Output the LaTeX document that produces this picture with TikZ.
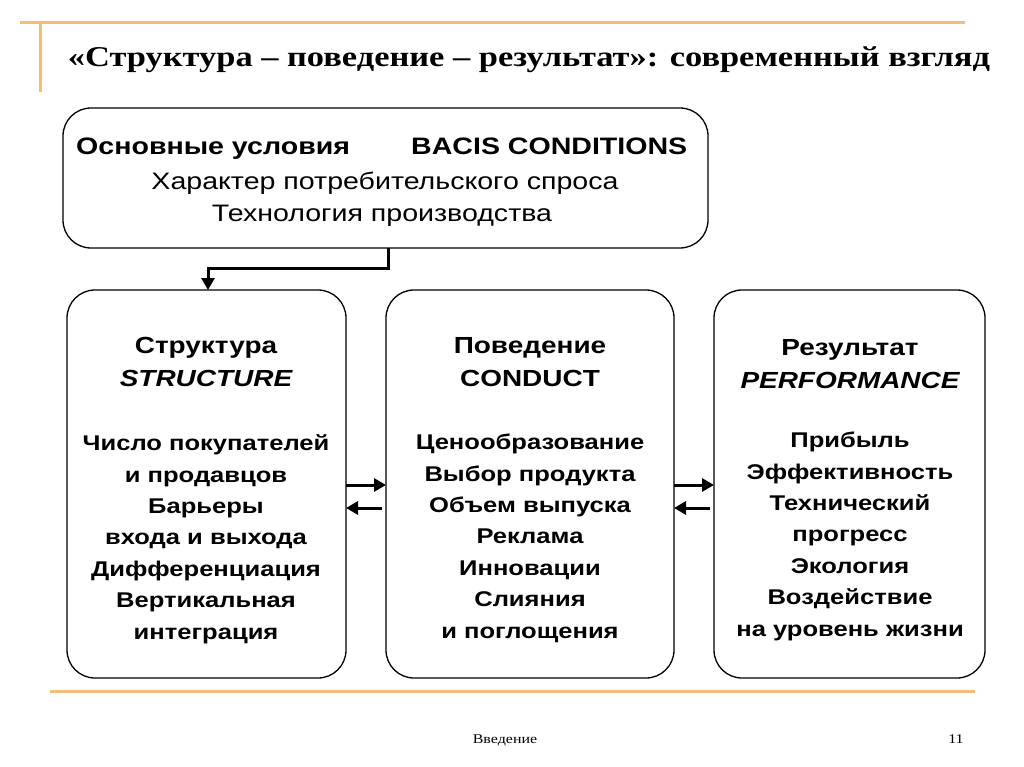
\documentclass[tikz,border=0pt]{standalone}
\usepackage{fontspec}
\setmainfont{Liberation Sans}
\newfontfamily\titlefont{Liberation Serif}
\usetikzlibrary{arrows.meta}
\definecolor{rule}{RGB}{240,190,120}
\newcommand\hsx[1]{\scalebox{1.2}[1]{#1}}
\tikzset{
  card/.style={draw=black, line width=1.3pt, rounded corners=28pt},
  txt/.style={align=center, font=\fontsize{21.3}{31.4}\selectfont\bfseries, inner sep=0pt, anchor=base},
  head/.style={align=center, font=\fontsize{23.3}{33}\selectfont\bfseries, inner sep=0pt, anchor=base},
  toptxt/.style={inner sep=0pt, font=\fontsize{23.8}{30}\selectfont},
  link/.style={line width=3pt, -{Triangle[length=12pt,width=13pt]}},
  orange/.style={draw=rule, line width=3pt}
}
\begin{document}
\begin{tikzpicture}[x=1pt,y=-1pt]
\useasboundingbox (0,0) rectangle (1024,767);
\fill[white] (0,0) rectangle (1024,767);
% decorative rules
\draw[orange] (20,23) -- (965,23);
\draw[orange] (40,23) -- (40,92);
\draw[orange] (50,691) -- (975,691);
% title
\node[inner sep=0pt, anchor=base] (title) at (529,67) {\titlefont\bfseries\fontsize{28.7}{34}\selectfont\hsx{«Структура – поведение – результат»: современный взгляд}};
% top box
\draw[card] (63,108) rectangle (708,248);
\node[toptxt, anchor=base west, font=\fontsize{23.8}{30}\selectfont\bfseries] (bc1) at (76,155) {\hsx{Основные условия}};
\node[toptxt, anchor=base west, font=\fontsize{23.8}{30}\selectfont\bfseries] (bc2) at (411,155) {\hsx{BACIS CONDITIONS}};
\node[toptxt, anchor=base] (bc3) at (385,190) {\hsx{Характер потребительского спроса}};
\node[toptxt, anchor=base] (bc4) at (382,222) {\hsx{Технология производства}};
% three boxes
\draw[card] (67,290) rectangle (346,678);
\draw[card] (386,290) rectangle (674,678);
\draw[card] (714,290) rectangle (985,678);
\coordinate (sTop) at (208,290);
\coordinate (bBot) at (388,248);
\draw[line width=3pt, -{Triangle[length=12pt,width=13pt]}] (bBot) -- (388,268) -- (208,268) -- (sTop);
% structure text
\node[head] (s1) at (206,386) {\hsx{Структура}\\\hsx{\itshape STRUCTURE}};
\node[txt] (s2) at (206,639) {\hsx{Число покупателей}\\\hsx{и продавцов}\\\hsx{Барьеры}\\\hsx{входа и выхода}\\\hsx{Дифференциация}\\\hsx{Вертикальная}\\\hsx{интеграция}};
% conduct text
\node[head] (c1) at (530,386) {\hsx{Поведение}\\\hsx{CONDUCT}};
\node[txt] (c2) at (530,638) {\hsx{Ценообразование}\\\hsx{Выбор продукта}\\\hsx{Объем выпуска}\\\hsx{Реклама}\\\hsx{Инновации}\\\hsx{Слияния}\\\hsx{и поглощения}};
% performance text
\node[head] (p1) at (850,388) {\hsx{Результат}\\\hsx{\itshape PERFORMANCE}};
\node[txt] (p2) at (850,636) {\hsx{Прибыль}\\\hsx{Эффективность}\\\hsx{Технический}\\\hsx{прогресс}\\\hsx{Экология}\\\hsx{Воздействие}\\\hsx{на уровень жизни}};
% arrows
\coordinate (a1s) at (346,485); \coordinate (a1e) at (386,485);
\coordinate (a2s) at (382,508); \coordinate (a2e) at (346,508);
\coordinate (a3s) at (674,485); \coordinate (a3e) at (714,485);
\coordinate (a4s) at (710,508); \coordinate (a4e) at (674,508);
\draw[link] (a1s) -- (a1e);
\draw[link] (a2s) -- (a2e);
\draw[link] (a3s) -- (a3e);
\draw[link] (a4s) -- (a4e);
% footer
\node[inner sep=0pt, anchor=base, font=\titlefont\fontsize{13.3}{15}\selectfont] (foot) at (505,743) {\hsx{Введение}};
\node[inner sep=0pt, anchor=base, font=\titlefont\fontsize{13.3}{15}\selectfont] (num) at (956,743) {\hsx{11}};
\end{tikzpicture}
\end{document}
